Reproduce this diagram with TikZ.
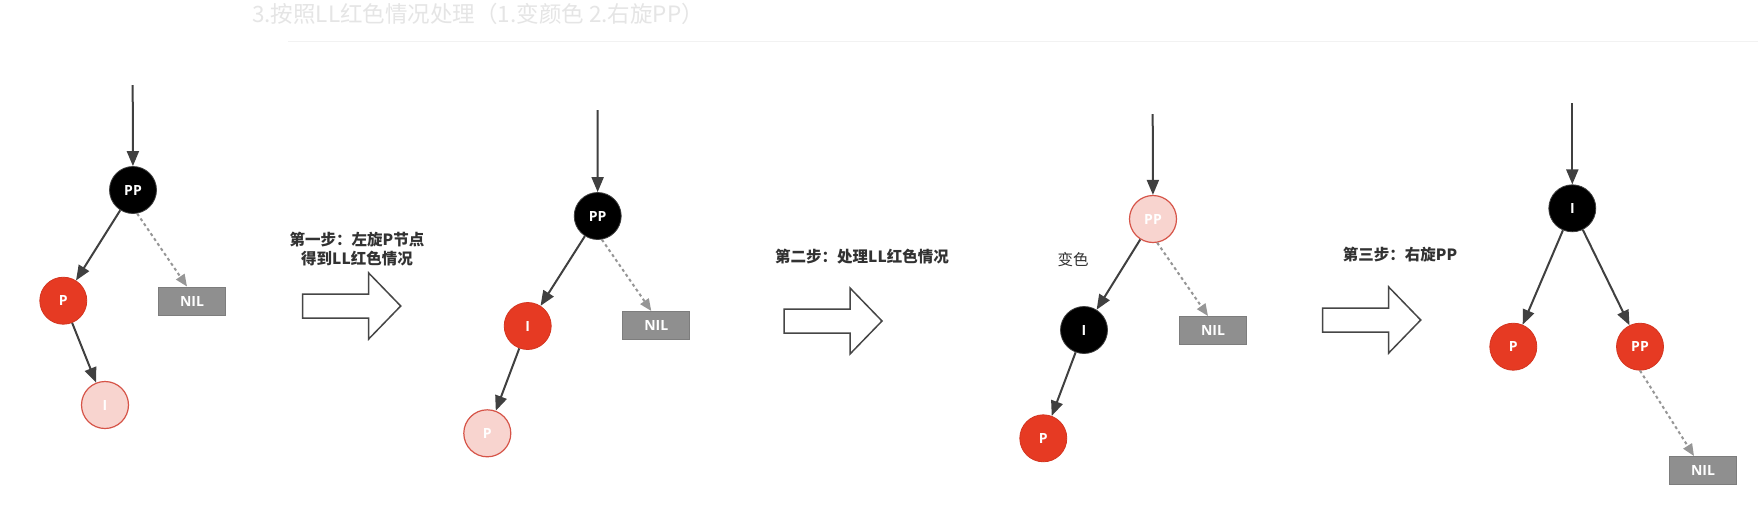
\documentclass[tikz,border=0pt]{standalone}
\usepackage{fontspec}
\setmainfont{Open Sans}
\newfontfamily\cjk{Noto Sans CJK SC}
\usetikzlibrary{arrows.meta}
\definecolor{rbred}{RGB}{230,58,35}
\definecolor{rbpink}{RGB}{248,212,207}
\definecolor{rbpinkline}{RGB}{214,84,72}
\definecolor{nilgray}{RGB}{143,143,143}
\definecolor{nilline}{RGB}{125,125,125}
\definecolor{edgecol}{RGB}{64,64,64}
\definecolor{dashcol}{RGB}{150,150,150}
\definecolor{textcol}{RGB}{50,50,50}
\definecolor{arrcol}{RGB}{70,70,70}
\begin{document}
\begin{tikzpicture}[x=1pt,y=-1pt,
  rb/.style={circle,minimum size=47pt,inner sep=0pt,font=\fontsize{14}{14}\selectfont\bfseries,text=white},
  rednode/.style={rb,fill=rbred,draw=rbred!92!black,line width=0.8pt},
  pinknode/.style={rb,fill=rbpink,draw=rbpinkline,line width=1.2pt},
  blacknode/.style={rb,fill=black,draw=black!75,line width=0.8pt},
  nilbox/.style={rectangle,minimum width=67pt,minimum height=28pt,inner sep=0pt,fill=nilgray,draw=nilline,line width=1pt,text=white,font=\fontsize{14}{14}\selectfont\bfseries},
  treeedge/.style={draw=edgecol,line width=2pt,-{Triangle[length=15pt,width=12pt]}},
  niledge/.style={draw=dashcol,line width=2pt,dash pattern=on 3pt off 3pt,-{Triangle[length=12pt,width=10pt]}},
  steptext/.style={text=textcol,font=\cjk\bfseries\fontsize{15.5}{19}\selectfont,align=center},
  blockarrow/.style={draw=arrcol,fill=white,line width=1.5pt,line join=miter},
  blockarr/.pic={\path[blockarrow] (0,-12) -- (66,-12) -- (66,-33) -- (98,0) -- (66,33) -- (66,12) -- (0,12) -- cycle;}
]
\useasboundingbox[fill=white] (0,0) rectangle (1758,504);

% faint header
\node[text=gray!20,font=\cjk\fontsize{22.5}{22.5}\selectfont,anchor=west,inner sep=0pt] (hdr) at (252,14) {3.按照LL红色情况处理（1.变颜色 2.右旋PP）};
\coordinate (hl) at (288,41);
\coordinate (hr) at (1758,41);
\draw[gray!10,line width=1pt] (hl) -- (hr);

% ---------- tree 1 ----------
\coordinate (top1) at (132.7,85);
\node[blacknode] (pp1) at (133,190) {PP};
\node[rednode] (p1) at (63.3,300.7) {P};
\node[pinknode] (i1) at (105,405) {I};
\node[nilbox] (nil1) at (192,301) {NIL};
\draw[treeedge] (top1) -- (pp1);
\draw[treeedge] (pp1) -- (p1);
\draw[treeedge] (p1) -- (i1);
\draw[niledge] (pp1.-80) -- ([xshift=-5pt]nil1.north);

% step 1
\node[steptext] (s1) at (357,249) {第一步：左旋P节点\\得到LL红色情况};
\pic at (302.7,306) {blockarr};

% ---------- tree 2 ----------
\coordinate (top2) at (597.5,110);
\node[blacknode] (pp2) at (597.7,216) {PP};
\node[rednode] (i2) at (527.7,326) {I};
\node[pinknode] (p2) at (487.3,433.3) {P};
\node[nilbox] (nil2) at (656.3,325.5) {NIL};
\draw[treeedge] (top2) -- (pp2);
\draw[treeedge] (pp2) -- (i2);
\draw[treeedge] (i2) -- (p2);
\draw[niledge] (pp2.-80) -- ([xshift=-5pt]nil2.north);

% step 2
\node[steptext] (s2) at (862,257) {第二步：处理LL红色情况};
\pic at (784,321) {blockarr};

% ---------- tree 3 ----------
\coordinate (top3) at (1152.7,114);
\node[pinknode] (pp3) at (1153,219) {PP};
\node[blacknode] (i3) at (1084,330) {I};
\node[rednode] (p3) at (1043.3,438.3) {P};
\node[nilbox] (nil3) at (1213,330.5) {NIL};
\node[text=textcol,font=\cjk\fontsize{15.5}{19}\selectfont] (bs) at (1073,260) {变色};
\draw[treeedge] (top3) -- (pp3);
\draw[treeedge] (pp3) -- (i3);
\draw[treeedge] (i3) -- (p3);
\draw[niledge] (pp3.-80) -- ([xshift=-5pt]nil3.north);

% step 3
\node[steptext] (s3) at (1400,255) {第三步：右旋PP};
\pic at (1322.7,320) {blockarr};

% ---------- tree 4 ----------
\coordinate (top4) at (1572.3,103);
\node[blacknode] (i4) at (1572.3,208.3) {I};
\node[rednode] (p4) at (1513.3,346.7) {P};
\node[rednode] (pp4) at (1640,346.7) {PP};
\node[nilbox] (nil4) at (1703,470.5) {NIL};
\draw[treeedge] (top4) -- (i4);
\draw[treeedge] (i4) -- (p4);
\draw[treeedge] (i4) -- (pp4);
\draw[niledge] (pp4.south) -- ([xshift=-9pt]nil4.north);
\end{tikzpicture}
\end{document}
